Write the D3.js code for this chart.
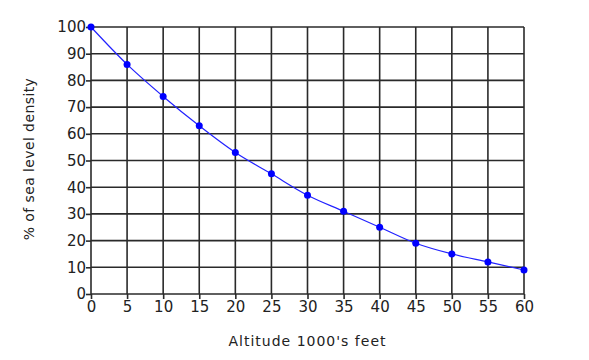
<!DOCTYPE html>
<html>
<head>
<meta charset="utf-8">
<script src="https://cdn.jsdelivr.net/npm/d3@7"></script>
<style>
body { margin: 0; background: #fff; }
text { font-family: "DejaVu Sans", Verdana, sans-serif; }
</style>
</head>
<body>
<script>
var WIDTH = 589,
    HEIGHT = 360;

var altitudes = [0, 5, 10, 15, 20, 25, 30, 35, 40, 45, 50, 55, 60];
var densities = [100, 86, 74, 63, 53, 45, 37, 31, 25, 19, 15, 12, 9];
var xTicks = [0, 5, 10, 15, 20, 25, 30, 35, 40, 45, 50, 55, 60];
var yTicks = [0, 10, 20, 30, 40, 50, 60, 70, 80, 90, 100];

var margin = { left: 91, right: 65, top: 27, bottom: 66 };

var svg = d3.select('body').append('svg')
    .attr('width', WIDTH)
    .attr('height', HEIGHT);

var x = d3.scaleLinear()
    .domain([0, 60])
    .range([margin.left, WIDTH - margin.right]);

var y = d3.scaleLinear()
    .domain([0, 100])
    .range([HEIGHT - margin.bottom, margin.top]);

// grid
var grid = svg.append('g');
grid.selectAll('line.v')
    .data(xTicks)
    .enter().append('line')
    .attr('x1', d => x(d)).attr('x2', d => x(d))
    .attr('y1', y(0)).attr('y2', y(100))
    .attr('stroke', '#2a2a2a')
    .attr('stroke-width', 1.6);
grid.selectAll('line.h')
    .data(yTicks)
    .enter().append('line')
    .attr('x1', x(0)).attr('x2', x(60))
    .attr('y1', d => y(d)).attr('y2', d => y(d))
    .attr('stroke', '#2a2a2a')
    .attr('stroke-width', 1.6);

// axes
var xAxis = svg.append('g')
    .attr('transform', 'translate(0,' + y(0) + ')')
    .call(d3.axisBottom(x).tickValues(xTicks).tickSize(5).tickPadding(2));
var yAxis = svg.append('g')
    .attr('transform', 'translate(' + x(0) + ',0)')
    .call(d3.axisLeft(y).tickValues(yTicks).tickSize(5).tickPadding(0));

[xAxis, yAxis].forEach(function(ax) {
    ax.select('.domain').remove();
    ax.selectAll('line').attr('stroke', '#2a2a2a').attr('stroke-width', 1.6);
    ax.selectAll('text')
        .attr('fill', '#222')
        .style('font-size', '15px');
});

// curve
var line = d3.line()
    .x((d, i) => x(altitudes[i]))
    .y(d => y(d))
    .curve(d3.curveMonotoneX);

svg.append('path')
    .datum(densities)
    .attr('d', line)
    .attr('fill', 'none')
    .attr('stroke', '#2222ff')
    .attr('stroke-width', 1.2);

svg.selectAll('circle')
    .data(densities)
    .enter().append('circle')
    .attr('cx', (d, i) => x(altitudes[i]))
    .attr('cy', d => y(d))
    .attr('r', 3.5)
    .attr('fill', '#0000ff');

// labels
svg.append('text')
    .attr('x', (x(0) + x(60)) / 2)
    .attr('y', 346)
    .attr('text-anchor', 'middle')
    .attr('fill', '#222')
    .style('font-size', '14px')
    .style('letter-spacing', '1px')
    .text("Altitude 1000's feet");

svg.append('text')
    .attr('transform', 'translate(34,159) rotate(-90)')
    .attr('text-anchor', 'middle')
    .attr('fill', '#222')
    .style('font-size', '14px')
    .style('letter-spacing', '0.4px')
    .text('% of sea level density');
</script>
</body>
</html>
